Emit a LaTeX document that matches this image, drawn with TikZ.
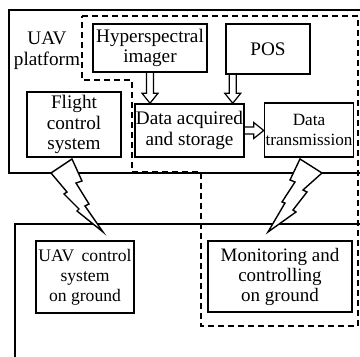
\documentclass[tikz,border=0pt]{standalone}
\usepackage{fontspec}
\setmainfont{Liberation Serif}
\usetikzlibrary{arrows.meta, positioning, calc}

\begin{document}
\begin{tikzpicture}[
  x=0.5pt, y=-0.5pt,
  box/.style={draw, line width=0.75pt, align=center, inner sep=0pt, font=\fontsize{9.6}{10.4}\selectfont},
  frame/.style={line width=0.75pt},
  zone/.style={line width=0.8pt, dash pattern=on 3pt off 2pt},
  bolt/.style={draw, fill=white, line width=0.7pt, line join=miter},
  blockarrow/.style={draw, line width=0.6pt, to path={
    let \p1=(\tikztostart), \p2=(\tikztotarget),
        \n1={veclen(\x2-\x1,\y2-\y1)},
        \n2={(\x2-\x1)/\n1}, \n3={(\y2-\y1)/\n1} in
    ({\x1-1.75pt*\n3},{\y1+1.75pt*\n2})
    -- ({\x2-5pt*\n2-1.75pt*\n3},{\y2-5pt*\n3+1.75pt*\n2})
    -- ({\x2-5pt*\n2-4pt*\n3},{\y2-5pt*\n3+4pt*\n2})
    -- (\p2)
    -- ({\x2-5pt*\n2+4pt*\n3},{\y2-5pt*\n3-4pt*\n2})
    -- ({\x2-5pt*\n2+1.75pt*\n3},{\y2-5pt*\n3-1.75pt*\n2})
    -- ({\x1+1.75pt*\n3},{\y1-1.75pt*\n2})}},
]
\useasboundingbox (0,0) rectangle (360,357);

% Frames
\draw[frame] (360,10) -| (9,173) -- (360,173);
\draw[frame] (360,224) -| (15,357);
\draw[zone] (82,16) -- (358,16) -- (358,326) -- (201,326) -- (201,172)
  -- (132,172) -- (132,80) -- (82,80) -- cycle;

% Nodes
\node[align=center, font=\fontsize{9.6}{10.6}\selectfont] (n0) at (47,51) {UAV\\platform};
\node[box, minimum width=57pt, minimum height=24pt] (n1) at (150,48) {Hyperspectral\\imager};
\node[box, minimum width=42pt, minimum height=25pt] (n2) at (268,49) {POS};
\node[box, minimum width=54.5pt, minimum height=26.5pt] (n3) at (189.5,130.5) {Data acquired\\and storage};
\node[box, minimum width=44.5pt, minimum height=27pt, right=9.5pt of n3, yshift=0.25pt,
  font=\fontsize{8.6}{10}\selectfont] (n4) {Data\\transmission};
\node[box, minimum width=47pt, minimum height=32.5pt] (n5) at (74,124.5) {Flight\\control\\system};
\node[box, minimum width=49pt, minimum height=36pt, font=\fontsize{8.8}{10}\selectfont]
  (n6) at (85,277) {UAV\,\ control\\system\\on ground};
\node[box, minimum width=72pt, minimum height=35.5pt, font=\fontsize{9.5}{10}\selectfont]
  (n7) at (280,276.5) {Monitoring and\\controlling\\on ground};

% Arrows
\draw[blockarrow] (n1.south) to (n1.south |- n3.north);
\draw[blockarrow] ([xshift=-6pt]n3.north east |- n2.south) to ([xshift=-6pt]n3.north east);
\draw[blockarrow] (n3.east) to (n3.east -| n4.west);

% Links
\draw[bolt] (72,159) -- (82,181) -- (76,183) -- (89,204) -- (85,206) -- (103,232)
  -- (77,211) -- (79,209) -- (64,194) -- (67,192) -- (51,173) -- cycle;
\draw[bolt] (300,159) -- (290,180) -- (295,182) -- (282,202) -- (285,203) -- (268,232)
  -- (296,212) -- (293,210) -- (307,192) -- (303,190) -- (322,173) -- cycle;
\end{tikzpicture}
\end{document}
